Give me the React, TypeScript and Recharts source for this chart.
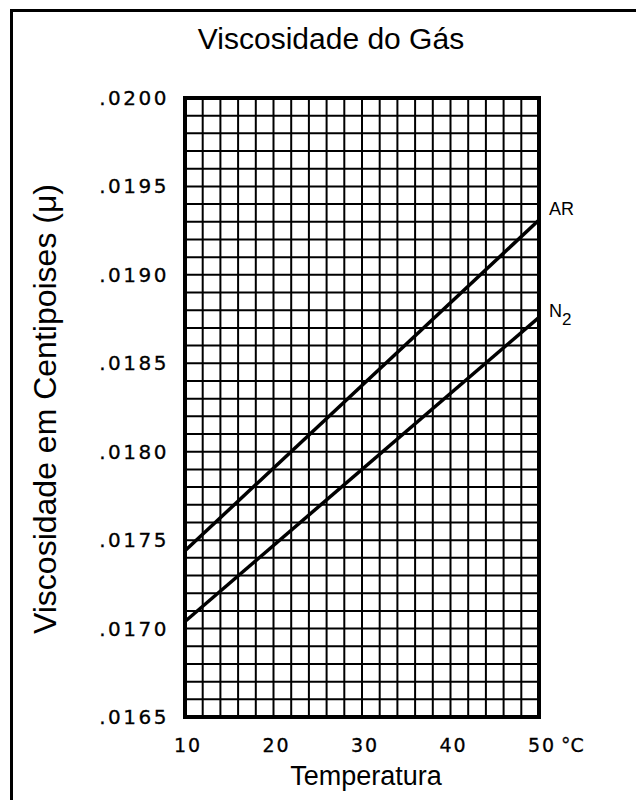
import React from "react";
import { LineChart, Line, XAxis, YAxis, CartesianGrid, ReferenceArea } from "recharts";

// valores
const temperaturas = [10, 50];
const viscosidadeAr = [0.01744, 0.01931];
const viscosidadeN2 = [0.01704, 0.01876];
const ticksTemperatura = [10, 20, 30, 40, 50];
const ticksViscosidade = [0.0165, 0.017, 0.0175, 0.018, 0.0185, 0.019, 0.0195, 0.02];

const data = temperaturas.map((t, i) => ({ t, ar: viscosidadeAr[i], n2: viscosidadeN2[i] }));

// papel milimetrado: a cada 2 °C e a cada .0001
const gradeX = Array.from({ length: 21 }, (_, i) => 10 + i * 2);
const gradeY = Array.from({ length: 36 }, (_, i) => +(0.0165 + i * 0.0001).toFixed(4));

const tickFont = "'DejaVu Sans', sans-serif";
const labelFont = "'Liberation Sans', Arial, sans-serif";

const XTick = (props: any) => {
  const { x, y, payload } = props;
  const v = payload.value;
  return (
    <g>
      <text x={x + 3} y={y + 27} textAnchor="middle" fontFamily={tickFont} fontSize={19} letterSpacing={2} stroke="#000" strokeWidth={0.3} fill="#000">
        {v}
      </text>
      {v === 50 && (
        <text x={x + 22} y={y + 27} textAnchor="start" fontFamily={tickFont} fontSize={19} stroke="#000" strokeWidth={0.3} fill="#000">
          °C
        </text>
      )}
    </g>
  );
};

const YTick = (props: any) => {
  const { x, y, payload } = props;
  return (
    <text x={x - 8} y={y + 7} textAnchor="end" fontFamily={tickFont} fontSize={20} letterSpacing={2.5} stroke="#000" strokeWidth={0.3} fill="#000">
      {payload.value.toFixed(4).replace(/^0/, "")}
    </text>
  );
};

const rotulo = (nome: string) => (props: any) => {
  const { x, y, index } = props;
  if (index !== data.length - 1) return <g />;
  if (nome === "AR") {
    return (
      <text x={x + 10} y={y - 5} fontFamily={labelFont} fontSize={18} fill="#000">
        AR
      </text>
    );
  }
  return (
    <text x={x + 10} y={y} fontFamily={labelFont} fontSize={18} fill="#000">
      N<tspan dy={8} fontSize={17}>2</tspan>
    </text>
  );
};

export default function App() {
  return (
    <div style={{ position: "absolute", left: 0, top: 0, width: 636, height: 800, background: "#fff", overflow: "hidden" }}>
      <div style={{ position: "absolute", left: 10, top: 9, width: 640, height: 800, borderLeft: "3px solid #000", borderTop: "3px solid #000" }} />
      <div style={{ position: "absolute", left: 0, top: 22, width: 662, textAlign: "center", fontFamily: labelFont, fontSize: 30, color: "#000" }}>
        Viscosidade do Gás
      </div>
      <div style={{ position: "absolute", left: 0, top: 761, width: 732, textAlign: "center", fontFamily: labelFont, fontSize: 27, lineHeight: "30px", color: "#000" }}>
        Temperatura
      </div>
      <div
        style={{
          position: "absolute",
          left: 45,
          top: 409,
          transform: "translate(-50%, -50%) rotate(-90deg)",
          whiteSpace: "nowrap",
          fontFamily: labelFont,
          fontSize: 32,
          color: "#000",
        }}
      >
        Viscosidade em Centipoises (μ)
      </div>
      <LineChart
        width={636}
        height={800}
        data={data}
        margin={{ top: 98, right: 97, bottom: 43, left: 105 }}
        style={{ position: "absolute", left: 0, top: 0 }}
      >
        <CartesianGrid stroke="#000" strokeWidth={2} horizontalValues={gradeY} verticalValues={gradeX} />
        <XAxis
          dataKey="t"
          type="number"
          domain={[10, 50]}
          ticks={ticksTemperatura}
          height={40}
          axisLine={false}
          tickLine={false}
          tick={<XTick />}
          interval={0}
        />
        <YAxis
          type="number"
          domain={[0.0165, 0.02]}
          ticks={ticksViscosidade}
          width={80}
          axisLine={false}
          tickLine={false}
          tick={<YTick />}
          interval={0}
        />
        <ReferenceArea x1={10} x2={50} y1={0.0165} y2={0.02} fill="none" stroke="#000" strokeWidth={4} ifOverflow="visible" />
        <Line dataKey="ar" stroke="#000" strokeWidth={3.5} dot={false} isAnimationActive={false} label={rotulo("AR")} />
        <Line dataKey="n2" stroke="#000" strokeWidth={3.5} dot={false} isAnimationActive={false} label={rotulo("N2")} />
      </LineChart>
    </div>
  );
}
